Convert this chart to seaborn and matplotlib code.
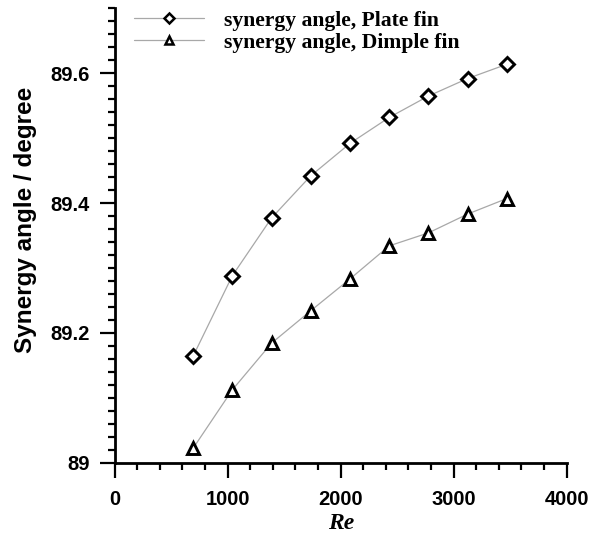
import numpy as np
import pandas as pd
import matplotlib
matplotlib.use("Agg")
import matplotlib.pyplot as plt
import seaborn as sns
from matplotlib.ticker import MultipleLocator, FixedLocator
from matplotlib.lines import Line2D

re_values = [694, 1041, 1388, 1735, 2082, 2429, 2776, 3123, 3470]
plate_fin = [89.164, 89.288, 89.377, 89.442, 89.492, 89.532, 89.565, 89.592, 89.614]
dimple_fin = [89.022, 89.112, 89.184, 89.234, 89.283, 89.334, 89.354, 89.383, 89.407]
series_labels = ["synergy angle, Plate fin", "synergy angle, Dimple fin"]
x_ticks = [0, 1000, 2000, 3000, 4000]
y_ticks = [89.0, 89.2, 89.4, 89.6]
y_tick_labels = ["89", "89.2", "89.4", "89.6"]

sns.set_theme(style="ticks")
plt.rcParams["font.family"] = ["Liberation Sans", "DejaVu Sans"]
plt.rcParams["text.color"] = "black"
plt.rcParams["axes.labelcolor"] = "black"
plt.rcParams["xtick.color"] = "black"
plt.rcParams["ytick.color"] = "black"

fig = plt.figure(figsize=(5.9, 5.37), dpi=100)
ax = fig.add_axes([0.1944, 0.1387, 0.7661, 0.8455])

df_plate = pd.DataFrame({"Re": re_values, "angle": plate_fin})
df_dimple = pd.DataFrame({"Re": re_values, "angle": dimple_fin})

common = dict(color="#a8a8a8", linewidth=0.9, markerfacecolor="white",
              markeredgecolor="black", markeredgewidth=2.1, ax=ax)
sns.lineplot(data=df_plate, x="Re", y="angle", marker="D", markersize=6.8, **common)
sns.lineplot(data=df_dimple, x="Re", y="angle", marker="^", markersize=8.3, **common)

ax.set_xlim(0, 4000)
ax.set_ylim(89.0, 89.7)
ax.xaxis.set_major_locator(FixedLocator(x_ticks))
ax.xaxis.set_minor_locator(MultipleLocator(200))
ax.yaxis.set_major_locator(FixedLocator(y_ticks))
ax.set_yticklabels(y_tick_labels)
ax.yaxis.set_minor_locator(MultipleLocator(0.02))

for side in ["top", "right"]:
    ax.spines[side].set_visible(False)
for side in ["left", "bottom"]:
    ax.spines[side].set_linewidth(2.0)
    ax.spines[side].set_color("black")

ax.tick_params(axis="both", which="major", direction="out", length=10.8, width=1.6,
               color="black", labelcolor="black", labelsize=14.5)
ax.tick_params(axis="x", which="major", pad=9)
ax.tick_params(axis="y", which="major", pad=7)
ax.tick_params(axis="both", which="minor", direction="out", length=5.3, width=1.6, color="black")
for lab in ax.get_xticklabels() + ax.get_yticklabels():
    lab.set_fontweight("bold")

ax.set_xlabel("Re", family=["Liberation Serif", "DejaVu Serif"], fontweight="bold",
              fontstyle="italic", fontsize=17, labelpad=3, color="black")
ax.set_ylabel("Synergy angle / degree", fontweight="bold", fontsize=17.5, color="black")
ax.yaxis.set_label_coords(-0.173, 0.534)

handles = [
    Line2D([], [], color="#a8a8a8", linewidth=0.9, marker="D", markersize=5,
           markerfacecolor="white", markeredgecolor="black", markeredgewidth=1.8),
    Line2D([], [], color="#a8a8a8", linewidth=0.9, marker="^", markersize=6,
           markerfacecolor="white", markeredgecolor="black", markeredgewidth=1.8),
]
ax.legend(handles, series_labels, loc="upper left", bbox_to_anchor=(0.0, 1.038),
          frameon=False, handlelength=3.2, handletextpad=0.95, labelspacing=0.08,
          prop={"family": ["Liberation Serif", "DejaVu Serif"], "weight": "bold", "size": 15.6})

fig.savefig("out.png", dpi=100)
